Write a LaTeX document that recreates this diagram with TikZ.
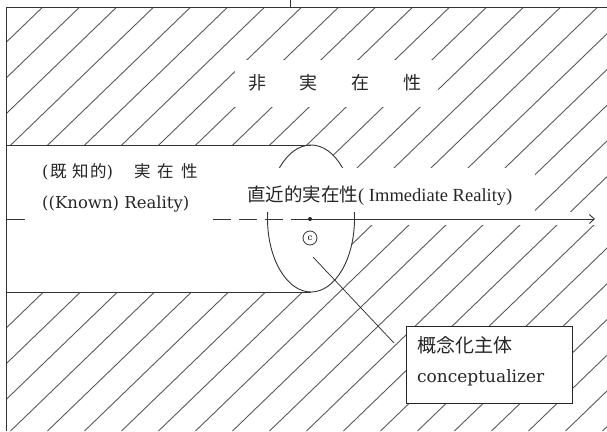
\documentclass[tikz,border=0pt]{standalone}
\usepackage{fontspec}
\setmainfont{Liberation Serif}
\newfontfamily\cjk{Noto Sans CJK JP}
\newfontfamily\dserif{DejaVu Serif}
\usetikzlibrary{arrows.meta}
\begin{document}
\begin{tikzpicture}[x=1pt,y=-1pt,
  hatch/.style={line width=0.9pt, draw=black!65},
  outline/.style={line width=0.9pt, draw=black!80},
  lbl/.style={inner sep=0pt, text=black!85}]
\useasboundingbox (0,0) rectangle (607,431);
% hatching
\begin{scope}
  \clip (6,7) rectangle (607,431);
  \foreach \k in {-1,...,28}{
    \draw[hatch] ({50+37*\k-7.25},7) -- ({50+37*\k-446.5},431);
  }
\end{scope}
% known reality band + immediate ellipse (white)
\fill[white] (6,145) rectangle (311,292);
\fill[white] (311,218.5) ellipse [x radius=43.5, y radius=73.5];
% frame
\draw[outline] (6,7) -- (607,7);
\draw[outline] (6,7) -- (6,431);
\draw[outline] (290,0) -- (290,7);
% band outline
\draw[outline] (6,145) -- (311,145);
\draw[outline] (6,292) -- (311,292);
\draw[outline] (311,218.5) ellipse [x radius=43.5, y radius=73.5];
% white label backgrounds
\fill[white] (235,60) rectangle (438,107);
\fill[white] (27,148) rectangle (213,222);
\fill[white] (245,168) rectangle (535,212);
\fill[white] (356,212) rectangle (607,225);
% time axis
\coordinate (L0) at (6,219);
\coordinate (L1) at (25,219);
\coordinate (D0) at (213,219);
\coordinate (dot) at (310,219);
\coordinate (tip) at (595,219);
\draw[outline] (L0) -- (L1);
\draw[outline, dash pattern=on 18pt off 8pt] (D0) -- (dot);
\draw[outline, -{Straight Barb[length=5pt,width=9pt]}] (dot) -- (tip);
\fill[black!85] (dot) circle (2);
% conceptualizer
\node[circle, draw=black!80, line width=0.8pt, inner sep=0pt, minimum size=14pt,
      font=\dserif\fontsize{8.5}{8.5}\selectfont] (cz) at (310,238) {c};
\coordinate (la) at (313,257);
\coordinate (lb) at (394,343);
\draw[line width=0.7pt, black!85] (la) -- (lb);
\node[draw=black!85, fill=white, line width=0.8pt, minimum width=166pt, minimum height=77pt,
      anchor=north west, inner sep=0pt] (box) at (406,326) {};
\node[lbl, anchor=base west] (t1) at (417,352) {\cjk\fontsize{19}{19}\selectfont 概念化主体};
\node[lbl, anchor=base west] (t2) at (417,382) {\dserif\fontsize{17}{17}\selectfont conceptualizer};
% labels
\node[lbl, anchor=base] (nr) at (335,89) {\cjk\fontsize{18}{18}\selectfont 非\kern34pt実\kern34pt在\kern34pt性};
\node[lbl, anchor=base west] (kr1) at (42,177) {\cjk\fontsize{16.5}{16.5}\selectfont{\dserif(}\kern1.5pt既\kern5.5pt知\kern1.5pt的{\dserif)}\kern21pt実\kern6.5pt在\kern7.5pt性};
\node[lbl, anchor=base west] (kr2) at (42,208) {\dserif\fontsize{16.5}{16.5}\selectfont ((Known) Reality)};
\node[lbl, anchor=base west] (ir) at (247,201) {{\cjk\fontsize{18.5}{18.5}\selectfont 直近的実在性}{\fontsize{18.5}{18.5}\selectfont( Immediate Reality)}};
\end{tikzpicture}
\end{document}
